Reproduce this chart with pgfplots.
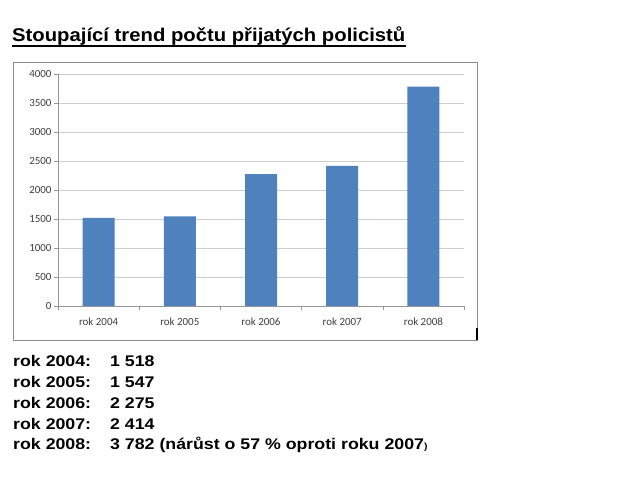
\documentclass[border=0pt]{standalone}
\usepackage{fontspec}
\setmainfont{Liberation Sans}
\newfontfamily\calfont{Carlito}
\usepackage{graphicx}
\usepackage{pgfplots}
\pgfplotsset{compat=1.18}
\definecolor{barblue}{HTML}{4F81BD}
\definecolor{boxgray}{RGB}{140,140,140}
\definecolor{axgray}{RGB}{150,150,150}
\definecolor{gridgray}{RGB}{205,205,205}
\begin{document}
\begin{tikzpicture}[x=1bp,y=1bp]
\useasboundingbox[fill=white] (0,0) rectangle (640,486);
% chart frame
\draw[boxgray, line width=0.8bp] (13,424) rectangle (477,146);
\draw[black, line width=2bp] (477,158) -- (477,146);
\begin{axis}[
  at={(58bp,180bp)}, anchor=south west,
  scale only axis, width=406bp, height=232bp,
  xmin=-0.5, xmax=4.5, ymin=0, ymax=4000,
  axis x line*=bottom, axis y line*=left,
  axis line style={axgray, line width=0.6bp},
  ytick={0,500,...,4000},
  ymajorgrids, grid style={gridgray, line width=0.6bp},
  xtick={0,1,2,3,4},
  xticklabels={rok 2004, rok 2005, rok 2006, rok 2007, rok 2008},
  minor xtick={-0.5,0.5,1.5,2.5,3.5,4.5},
  tick align=outside,
  major x tick style={draw=none},
  major tick length=4bp, minor tick length=4bp,
  tick style={axgray, line width=0.6bp},
  minor tick style={axgray, line width=0.6bp},
  ticklabel style={font=\calfont\fontsize{11}{13}\selectfont, text=black!75},
  yticklabel style={xshift=1bp},
  xticklabel style={yshift=-4.5bp},
  /pgf/number format/assume math mode=true,
  /pgf/number format/1000 sep={},
  ybar, bar width=32bp,
]
\addplot[fill=barblue, draw=none] coordinates {(0,1518) (1,1547) (2,2275) (3,2414) (4,3782)};
\end{axis}
% title
\node[anchor=base west, inner sep=0pt] (t) at (12,444.7) {\scalebox{1.1}[1]{\fontsize{18.5}{22}\selectfont\bfseries Stoupající trend počtu přijatých policistů}};
\draw[black, line width=1.5bp] ([yshift=-4.7bp]t.base west) -- ([yshift=-4.7bp]t.base east);
% text rows
\newcommand{\rowtxt}[1]{\scalebox{1.15}[1]{\fontsize{15.5}{18}\selectfont\bfseries #1}}
\node[anchor=base west, inner sep=0pt] at (13,119) {\rowtxt{rok 2004:}};
\node[anchor=base west, inner sep=0pt] at (13,98) {\rowtxt{rok 2005:}};
\node[anchor=base west, inner sep=0pt] at (13,77) {\rowtxt{rok 2006:}};
\node[anchor=base west, inner sep=0pt] at (13,56) {\rowtxt{rok 2007:}};
\node[anchor=base west, inner sep=0pt] at (13,36) {\rowtxt{rok 2008:}};
\node[anchor=base west, inner sep=0pt] at (110,119) {\rowtxt{1 518}};
\node[anchor=base west, inner sep=0pt] at (110,98) {\rowtxt{1 547}};
\node[anchor=base west, inner sep=0pt] at (110,77) {\rowtxt{2 275}};
\node[anchor=base west, inner sep=0pt] at (110,56) {\rowtxt{2 414}};
\node[anchor=base west, inner sep=0pt] at (110,36) {\rowtxt{3 782 (nárůst o 57 \% oproti roku 2007}\scalebox{1.15}[1]{\fontsize{9}{10}\selectfont\bfseries )}};
\end{tikzpicture}
\end{document}
